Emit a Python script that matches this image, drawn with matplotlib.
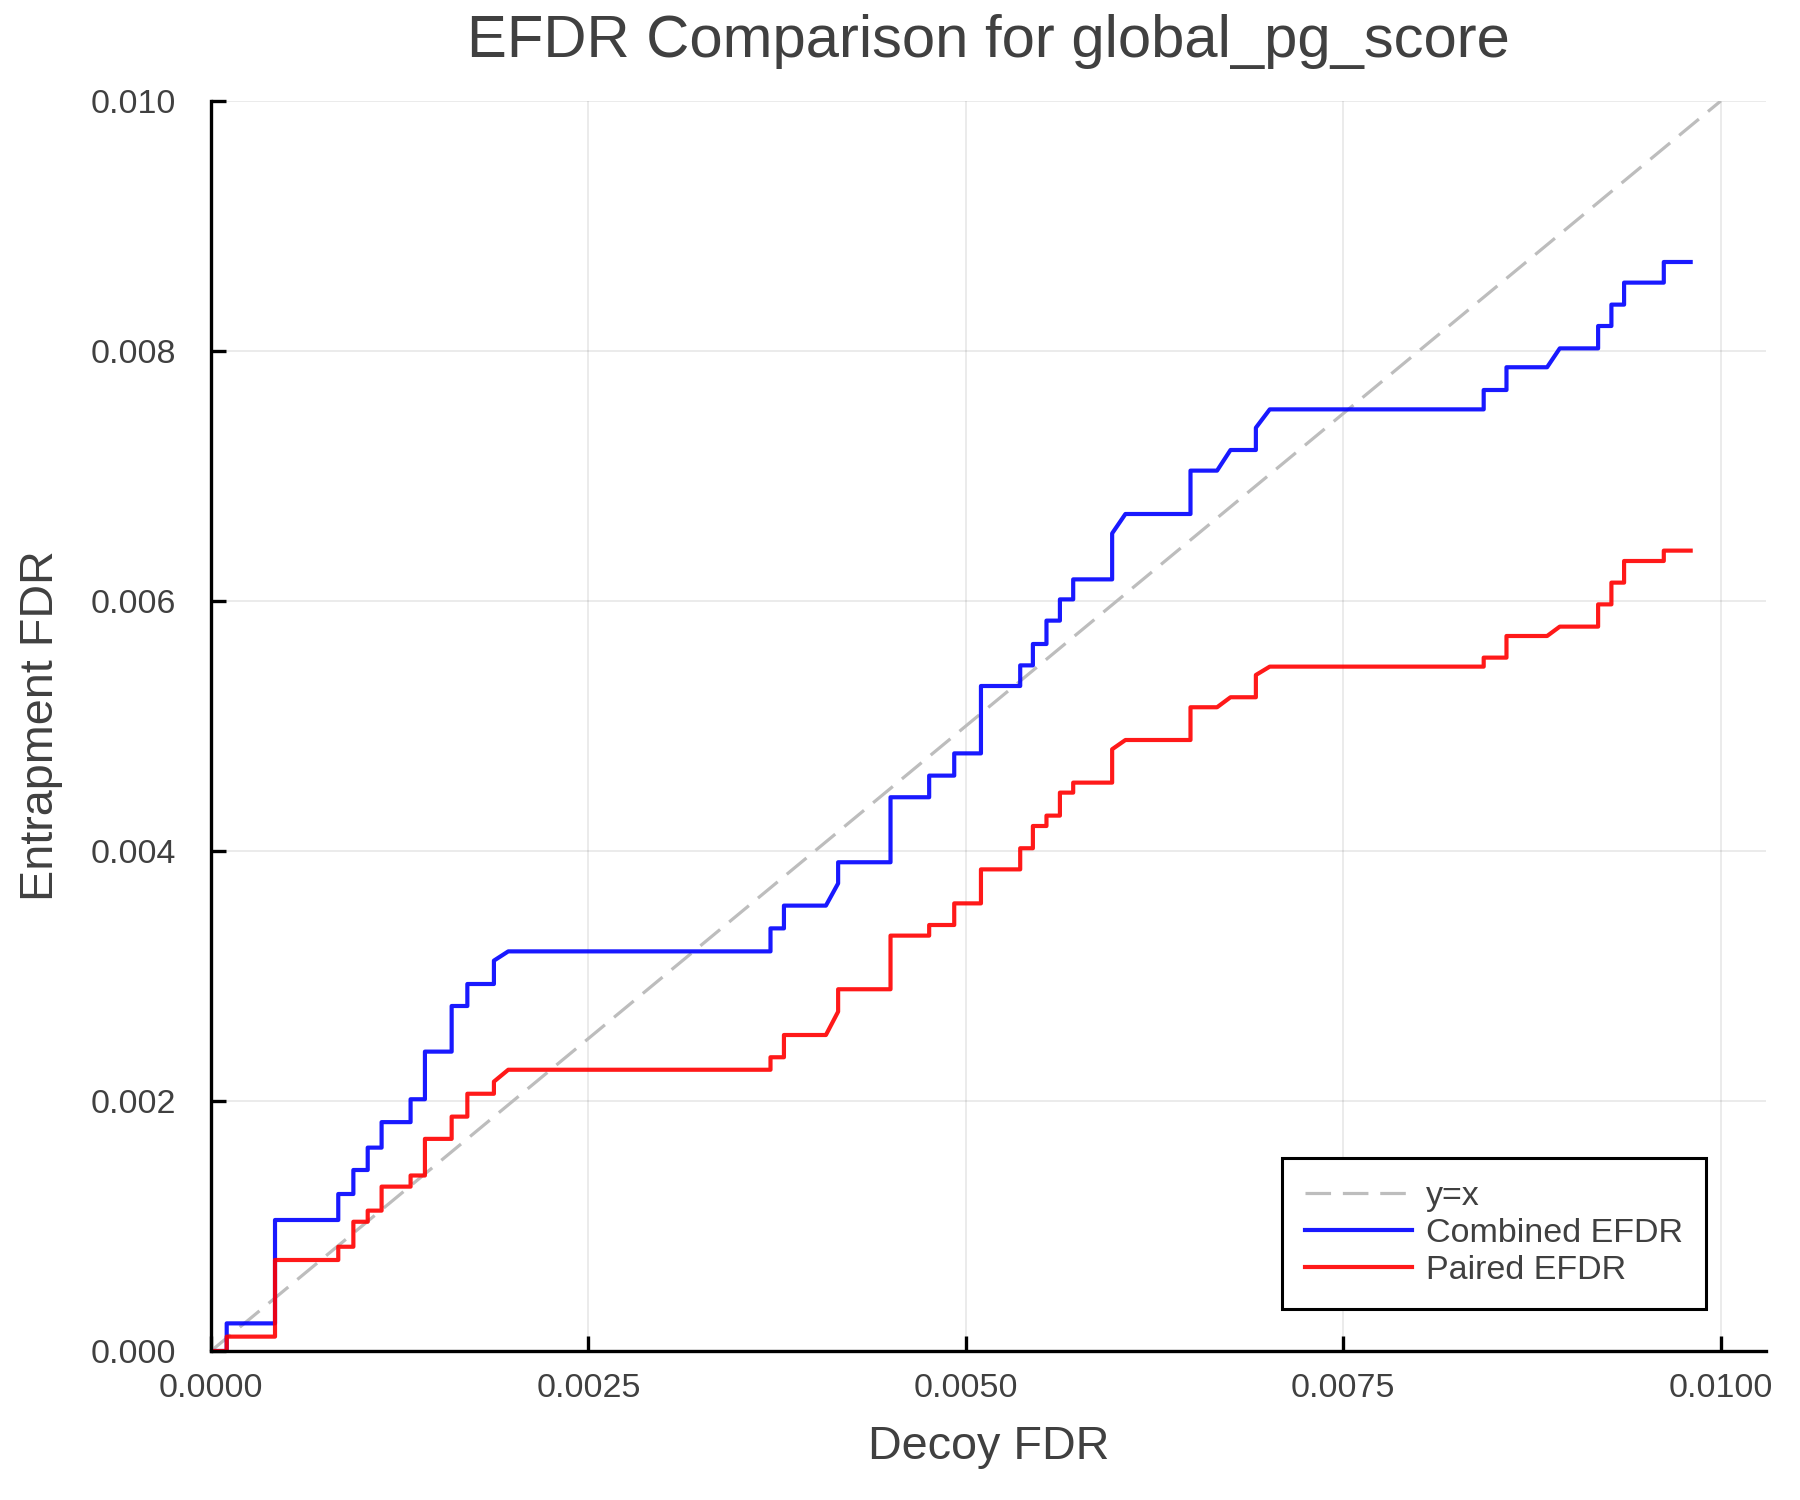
import matplotlib
matplotlib.use("Agg")
import matplotlib.pyplot as plt
from matplotlib.ticker import FormatStrFormatter

# decoy FDR values (shared x for both curves)
decoy_fdr = [0, 0.000104, 0.000104, 0.000424, 0.000424, 0.000843, 0.000843,
             0.000943, 0.000943, 0.001038, 0.001038, 0.00113, 0.00113,
             0.001322, 0.001322, 0.001417, 0.001417, 0.001594, 0.001594,
             0.001698, 0.001698, 0.001874, 0.001874, 0.001969, 0.003706,
             0.003706, 0.003795, 0.003795, 0.004073, 0.004154, 0.004154,
             0.004501, 0.004501, 0.004757, 0.004757, 0.004923, 0.004923,
             0.0051, 0.0051, 0.00536, 0.00536, 0.005444, 0.005444,
             0.005534, 0.005534, 0.005623, 0.005623, 0.005711, 0.005711,
             0.005969, 0.005969, 0.006057, 0.006488, 0.006488, 0.006664,
             0.006753, 0.006921, 0.006921, 0.007013, 0.00843, 0.00843,
             0.008581, 0.008581, 0.00885, 0.008934, 0.009188, 0.009188,
             0.009276, 0.009276, 0.00936, 0.00936, 0.009623, 0.009623,
             0.009801]

combined_efdr = [0, 0, 0.000221, 0.000221, 0.001048, 0.001048, 0.001256,
                 0.001256, 0.001448, 0.001448, 0.001627, 0.001627, 0.001831,
                 0.001831, 0.002014, 0.002014, 0.002395, 0.002395, 0.00276,
                 0.00276, 0.002936, 0.002936, 0.003123, 0.003197, 0.003197,
                 0.003381, 0.003381, 0.003563, 0.003563, 0.003741, 0.00391,
                 0.00391, 0.00443, 0.00443, 0.004603, 0.004603, 0.004781,
                 0.004781, 0.00532, 0.00532, 0.005485, 0.005485, 0.005656,
                 0.005656, 0.005843, 0.005843, 0.006013, 0.006013, 0.006173,
                 0.006173, 0.006541, 0.006696, 0.006696, 0.007043, 0.007043,
                 0.007208, 0.007208, 0.007386, 0.007533, 0.007533, 0.007688,
                 0.007688, 0.00787, 0.00787, 0.008021, 0.008021, 0.0082,
                 0.0082, 0.008371, 0.008371, 0.008547, 0.008547, 0.008712,
                 0.008712]

paired_efdr = [0, 0, 0.000115, 0.000115, 0.000728, 0.000728, 0.000834,
               0.000834, 0.001034, 0.001034, 0.001123, 0.001123, 0.001315,
               0.001315, 0.001404, 0.001404, 0.001697, 0.001697, 0.001875,
               0.001875, 0.002058, 0.002058, 0.002155, 0.00225, 0.00225,
               0.00235, 0.00235, 0.002528, 0.002528, 0.002715, 0.002894,
               0.002894, 0.003323, 0.003323, 0.003408, 0.003408, 0.003581,
               0.003581, 0.003853, 0.003853, 0.004022, 0.004022, 0.0042,
               0.0042, 0.004283, 0.004283, 0.004467, 0.004467, 0.004547,
               0.004547, 0.004814, 0.004888, 0.004888, 0.00515, 0.00515,
               0.00523, 0.00523, 0.005408, 0.005475, 0.005475, 0.005547,
               0.005547, 0.00572, 0.00572, 0.005795, 0.005795, 0.005973,
               0.005973, 0.006147, 0.006147, 0.00632, 0.00632, 0.006403,
               0.006403]

diag = [0.0, 0.01]
xticks = [0.0, 0.0025, 0.005, 0.0075, 0.01]
yticks = [0.0, 0.002, 0.004, 0.006, 0.008, 0.01]

txt = "#404040"
plt.rcParams["font.family"] = ["Liberation Sans", "DejaVu Sans"]

fig = plt.figure(figsize=(18, 15), dpi=100)
ax = fig.add_axes([211/1800, 1 - 1351/1500, (1766-211)/1800, (1351-101)/1500])

ax.plot(diag, diag, color="#bdbdbd", lw=2.3, dashes=(8, 3.7), label="y=x")
ax.plot(decoy_fdr, combined_efdr, color="blue", alpha=0.9, lw=3.0,
        label="Combined EFDR")
ax.plot(decoy_fdr, paired_efdr, color="red", alpha=0.9, lw=3.0,
        label="Paired EFDR")

ax.set_xlim(0, 0.0103)
ax.set_ylim(0, 0.01)
ax.set_xticks(xticks)
ax.set_yticks(yticks)
ax.xaxis.set_major_formatter(FormatStrFormatter("%.4f"))
ax.yaxis.set_major_formatter(FormatStrFormatter("%.3f"))

ax.grid(True, color="black", alpha=0.1, lw=1.1)
ax.set_axisbelow(True)
for s in ["top", "right"]:
    ax.spines[s].set_visible(False)
for s in ["left", "bottom"]:
    ax.spines[s].set_linewidth(2.4)
    ax.spines[s].set_color("black")

ax.tick_params(axis="both", direction="in", length=11, width=2.4,
               labelsize=24.5, labelcolor=txt, color="black")
ax.tick_params(axis="x", pad=16)
ax.tick_params(axis="y", pad=25)

ax.set_title("EFDR Comparison for global_pg_score", fontsize=43,
             color=txt, pad=32)
ax.set_xlabel("Decoy FDR", fontsize=33.7, color=txt, labelpad=15)
ax.set_ylabel("Entrapment FDR", fontsize=33.7, color=txt, labelpad=20)

leg = ax.legend(loc="lower right", bbox_to_anchor=(0.9612, 0.0336),
                fontsize=24.5, frameon=True, fancybox=False,
                handlelength=3.15, handletextpad=0.4, labelspacing=0.17,
                borderpad=0.68, borderaxespad=0)
leg.get_frame().set_edgecolor("black")
leg.get_frame().set_linewidth(2.2)
leg.get_frame().set_alpha(1)
for t in leg.get_texts():
    t.set_color(txt)

fig.savefig("out.png", dpi=100)
